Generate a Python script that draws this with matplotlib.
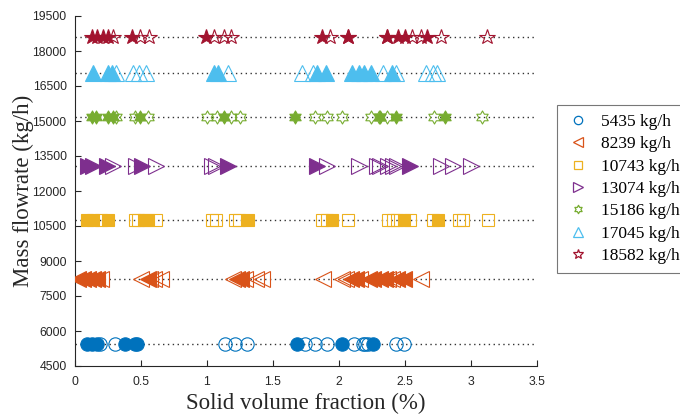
import numpy as np
import matplotlib.pyplot as plt
from matplotlib.path import Path
from matplotlib.lines import Line2D

# mass flowrates (kg/h) and the measured solid volume fractions (%)
flowrates = [5435, 8239, 10743, 13074, 15186, 17045, 18582]
labels = ["5435 kg/h", "8239 kg/h", "10743 kg/h", "13074 kg/h",
          "15186 kg/h", "17045 kg/h", "18582 kg/h"]

filled_5435 = [0.09, 0.126, 0.165, 0.38, 0.455, 0.47, 1.68, 2.02, 2.26]
open_5435 = [0.19, 0.30, 1.14, 1.21, 1.30, 1.745, 1.82, 1.91, 2.11, 2.18, 2.20, 2.22, 2.43, 2.49]

filled_8239 = [0.02, 0.06, 0.10, 0.14, 0.17, 0.55, 1.23, 1.26, 2.09, 2.13, 2.23, 2.26, 2.31, 2.35, 2.44, 2.49]
open_8239 = [0.20, 0.50, 0.57, 0.60, 0.65, 1.20, 1.29, 1.37, 1.42, 1.88, 2.02, 2.05, 2.16, 2.37, 2.40, 2.62]

filled_10743 = [0.09, 0.14, 0.25, 0.52, 0.55, 1.31, 1.95, 2.49, 2.75]
open_10743 = [0.20, 0.455, 0.48, 0.61, 1.04, 1.07, 1.21, 1.24, 1.87, 1.91, 2.07, 2.37, 2.41, 2.44,
              2.54, 2.71, 2.91, 2.94, 3.13]

filled_13074 = [0.10, 0.14, 0.24, 0.51, 1.16, 1.83, 2.54]
open_13074 = [0.29, 0.46, 0.61, 1.04, 1.07, 1.91, 2.15, 2.29, 2.31, 2.37, 2.41, 2.44, 2.77, 2.86, 3.00]

filled_15186 = [0.126, 0.16, 0.25, 0.286, 0.49, 1.125, 1.67, 2.31, 2.435, 2.80]
open_15186 = [0.31, 0.455, 0.55, 1.00, 1.075, 1.18, 1.25, 1.82, 1.91, 2.02, 2.24, 2.30, 2.365, 2.72, 3.08]

filled_17045 = [0.14, 0.25, 0.28, 1.05, 1.08, 1.83, 1.90, 2.10, 2.15, 2.19, 2.24, 2.40]
open_17045 = [0.31, 0.44, 0.485, 0.535, 1.16, 1.72, 1.80, 2.33, 2.435, 2.66, 2.71, 2.74]

filled_18582 = [0.126, 0.17, 0.21, 0.25, 0.43, 0.99, 1.87, 2.07, 2.365, 2.45, 2.50, 2.67]
open_18582 = [0.286, 0.49, 0.56, 1.055, 1.125, 1.18, 1.93, 2.07, 2.365, 2.555, 2.62, 2.77, 3.12]

filled = [filled_5435, filled_8239, filled_10743, filled_13074, filled_15186, filled_17045, filled_18582]
opened = [open_5435, open_8239, open_10743, open_13074, open_15186, open_17045, open_18582]

colors = ["#0072BD", "#D95319", "#EDB120", "#7E2F8E", "#77AC30", "#4DBEEE", "#A2142F"]
hexagram = Path.unit_regular_star(6, 0.577)
markers = ["o", "<", "s", ">", hexagram, "^", "*"]
msizes = [9.6, 12.0, 8.6, 12.0, 9.4, 11.0, 11.5]
leg_sizes = [6.0, 7.0, 5.2, 7.0, 6.0, 6.8, 7.0]

plt.rcParams["font.family"] = ["Liberation Sans", "DejaVu Sans"]
axcol = "#262626"

fig = plt.figure(figsize=(6.8, 4.17), dpi=100)
ax = fig.add_axes([75 / 680, 1 - 366 / 417, 462 / 680, 350 / 417])

for q, c, m, ms, xf, xo in zip(flowrates, colors, markers, msizes, filled, opened):
    ax.plot([0, 3.5], [q, q], color="#333333", lw=1.0, ls=(0, (1, 2.5)), zorder=1)
    ax.plot(xo, [q] * len(xo), ls="none", marker=m, ms=ms, mfc="none", mec=c, mew=0.8, zorder=2)
    ax.plot(xf, [q] * len(xf), ls="none", marker=m, ms=ms, mfc=c, mec=c, mew=0.8, zorder=3)

ax.set_xlim(0, 3.5)
ax.set_ylim(4500, 19500)
ax.set_xticks(np.arange(0, 3.51, 0.5))
ax.set_xticklabels(["0", "0.5", "1", "1.5", "2", "2.5", "3", "3.5"])
ax.set_yticks(np.arange(4500, 19501, 1500))
ax.tick_params(direction="in", length=4, width=0.8, labelsize=8.8, colors=axcol)
ax.tick_params(axis="x", pad=7)
ax.tick_params(axis="y", pad=6)
for s in ["top", "right"]:
    ax.spines[s].set_visible(False)
for s in ["left", "bottom"]:
    ax.spines[s].set_color(axcol)
    ax.spines[s].set_linewidth(0.8)

ax.set_xlabel("Solid volume fraction (%)", family="Liberation Serif", fontsize=16.5, color=axcol, labelpad=4)
ax.set_ylabel("Mass flowrate (kg/h)", family="Liberation Serif", fontsize=16.5, color=axcol, labelpad=-1)

handles = [Line2D([], [], ls="none", marker=m, ms=ls_, mfc="none", mec=c, mew=0.9)
           for c, m, ls_ in zip(colors, markers, leg_sizes)]
leg = fig.legend(handles, labels, loc="upper left", bbox_to_anchor=(557 / 680, 1 - 105 / 417),
                 prop={"family": "Liberation Serif", "size": 12.5}, frameon=True, fancybox=False,
                 edgecolor="#555555", handlelength=1.4, handletextpad=0.65, labelspacing=0.36,
                 borderpad=0.5, borderaxespad=0)
leg.get_frame().set_linewidth(0.8)

fig.savefig("out.png", dpi=100)
